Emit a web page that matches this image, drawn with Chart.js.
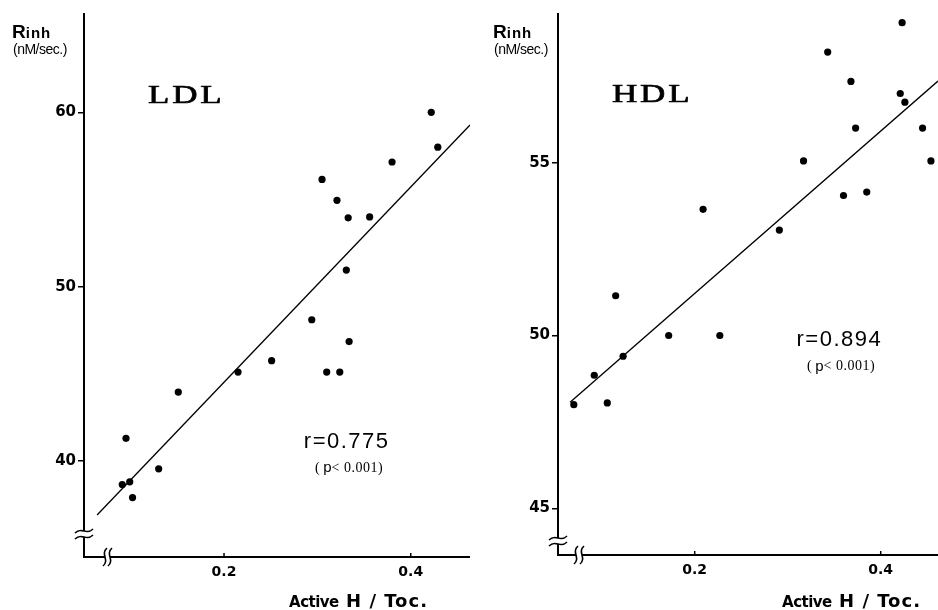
<!DOCTYPE html>
<html>
<head>
<meta charset="utf-8">
<script src="https://cdn.jsdelivr.net/npm/chart.js@4.4.1/dist/chart.umd.min.js"></script>
<style>
  body { margin: 0; background: #fff; }
  .panel { position: absolute; top: 0; height: 610px; }
  #left { left: 0; width: 470px; }
  #right { left: 470px; width: 468px; }
</style>
</head>
<body>
<div class="panel" id="left"><canvas id="ldlChart"></canvas></div>
<div class="panel" id="right"><canvas id="hdlChart"></canvas></div>
<script>
const xTickValues = [0.2, 0.4];

// LDL panel
const ldlX = [0.422, 0.429, 0.380, 0.305, 0.321, 0.333, 0.356, 0.331, 0.294, 0.334,
              0.251, 0.215, 0.310, 0.324, 0.151, 0.095, 0.130, 0.091, 0.099, 0.102];
const ldlY = [60.0, 58.0, 57.15, 56.15, 54.95, 53.95, 54.0, 50.95, 48.1, 46.85,
              45.75, 45.1, 45.1, 45.1, 43.95, 41.3, 39.55, 38.65, 38.8, 37.9];
const ldlFitX = [0.064, 0.4635];
const ldlFitY = [36.9, 59.27];
const ldlYTicks = [40, 50, 60];

// HDL panel
const hdlX = [0.423, 0.343, 0.368, 0.421, 0.426, 0.373, 0.445, 0.317, 0.454, 0.360,
              0.385, 0.209, 0.291, 0.115, 0.172, 0.227, 0.123, 0.092, 0.070, 0.106];
const hdlY = [59.05, 58.2, 57.35, 57.0, 56.75, 56.0, 56.0, 55.05, 55.05, 54.05,
              54.15, 53.65, 53.05, 51.15, 50.0, 50.0, 49.4, 48.85, 48.0, 48.05];
const hdlFitX = [0.066, 0.4616];
const hdlFitY = [48.07, 57.36];
const hdlYTicks = [45, 50, 55];

function toPoints(xs, ys) {
    return xs.map((x, i) => ({ x: x, y: ys[i] }));
}

function drawRun(ctx, parts, x, y, align) {
    let total = 0;
    parts.forEach(p => {
        ctx.font = p.font;
        ctx.letterSpacing = (p.spacing || 0) + 'px';
        p.w = ctx.measureText(p.text).width;
        total += p.w;
    });
    let cx = align === 'right' ? x - total : x;
    parts.forEach(p => {
        ctx.font = p.font;
        ctx.letterSpacing = (p.spacing || 0) + 'px';
        ctx.fillText(p.text, cx, y);
        cx += p.w;
    });
    ctx.letterSpacing = '0px';
}

function tilde(ctx, x0, x1, y) {
    ctx.beginPath();
    ctx.moveTo(x0, y + 2);
    ctx.bezierCurveTo(x0 + 7, y - 5, x1 - 7, y + 5, x1, y - 2);
    ctx.stroke();
}

function vwave(ctx, x, y0, y1) {
    ctx.beginPath();
    ctx.moveTo(x + 2, y0);
    ctx.bezierCurveTo(x - 5, y0 + 6, x + 5, y1 - 6, x - 2, y1);
    ctx.stroke();
}

const figureDecor = {
    id: 'figureDecor',
    afterDraw(chart, args, o) {
        const ctx = chart.ctx;
        const area = chart.chartArea;
        const sx = chart.scales.x, sy = chart.scales.y;
        ctx.save();
        ctx.fillStyle = '#000';
        ctx.strokeStyle = '#000';

        // short inward ticks on the x axis
        ctx.lineWidth = 1.5;
        xTickValues.forEach(v => {
            const px = sx.getPixelForValue(v);
            ctx.beginPath();
            ctx.moveTo(px, area.bottom);
            ctx.lineTo(px, area.bottom - 4);
            ctx.stroke();
        });

        // axis breaks
        const yb0 = area.bottom + o.yBreak[0], yb1 = area.bottom + o.yBreak[1];
        ctx.fillStyle = '#fff';
        ctx.fillRect(area.left - 3, yb0, 6, yb1 - yb0);
        const xb0 = area.left + o.xBreak[0], xb1 = area.left + o.xBreak[1];
        ctx.fillRect(xb0, area.bottom - 3, xb1 - xb0, 6);
        ctx.fillStyle = '#000';
        ctx.lineWidth = 1.6;
        tilde(ctx, area.left - 9, area.left + 9, yb0);
        tilde(ctx, area.left - 9, area.left + 9, yb1);
        vwave(ctx, xb0, area.bottom - 9, area.bottom + 9);
        vwave(ctx, xb1, area.bottom - 9, area.bottom + 9);

        // y axis title
        const tx = area.left + o.yTitleDx;
        ctx.textBaseline = 'alphabetic';
        ctx.textAlign = 'left';
        drawRun(ctx, [
            { text: 'R', font: 'bold 19px "Liberation Sans"' },
            { text: 'inh', font: 'bold 15px "Liberation Sans"', spacing: 1 }
        ], tx, 38, 'left');
        drawRun(ctx, [{ text: '(nM/sec.)', font: '14px "Liberation Sans"', spacing: -0.5 }], tx + 1, 54, 'left');

        // panel name, wide serif
        ctx.textBaseline = 'middle';
        ctx.save();
        ctx.translate(sx.getPixelForValue(o.name.x), sy.getPixelForValue(o.name.y));
        ctx.scale(1.4, 1);
        ctx.font = '25px "Liberation Serif"';
        ctx.letterSpacing = '2px';
        ctx.lineWidth = 0.6;
        ctx.fillText(o.name.text, 0, 0);
        ctx.strokeText(o.name.text, 0, 0);
        ctx.restore();

        // correlation
        drawRun(ctx, [{ text: o.r.text, font: '22px "Liberation Sans"', spacing: 1.5 }],
            sx.getPixelForValue(o.r.x), sy.getPixelForValue(o.r.y), 'left');
        drawRun(ctx, [
            { text: '( ', font: '14px "Liberation Serif"' },
            { text: 'p', font: '15px "Liberation Sans"' },
            { text: '< 0.001)', font: '14px "Liberation Serif"', spacing: 0.5 }
        ], sx.getPixelForValue(o.p.x), sy.getPixelForValue(o.p.y), 'left');

        // x axis title
        ctx.textBaseline = 'alphabetic';
        drawRun(ctx, [
            { text: 'Active', font: 'bold 15px "DejaVu Sans"', spacing: -0.5 },
            { text: ' H / Toc.', font: 'bold 18px "DejaVu Sans"', spacing: 1 }
        ], sx.getPixelForValue(o.xTitle.x), sy.getPixelForValue(o.xTitle.y), 'right');

        ctx.restore();
    }
};

function createPanel(canvasId, pts, fitX, fitY, yTicks, axes, decor) {
    const ctx = document.getElementById(canvasId).getContext('2d');
    return new Chart(ctx, {
        type: 'scatter',
        data: {
            datasets: [
                {
                    data: toPoints(pts[0], pts[1]),
                    backgroundColor: '#000',
                    borderWidth: 0,
                    pointRadius: 3.6
                },
                {
                    type: 'line',
                    data: toPoints(fitX, fitY),
                    borderColor: '#000',
                    borderWidth: 1.3,
                    pointRadius: 0,
                    fill: false
                }
            ]
        },
        options: {
            responsive: true,
            maintainAspectRatio: false,
            animation: false,
            layout: { autoPadding: false, padding: { top: 14, right: 0, left: 0, bottom: 0 } },
            scales: {
                x: {
                    type: 'linear',
                    min: axes.xMin,
                    max: axes.xMax,
                    afterBuildTicks: s => { s.ticks = xTickValues.map(v => ({ value: v })); },
                    afterFit: s => { s.height = axes.xHeight; },
                    grid: { display: true, drawOnChartArea: false, drawTicks: false },
                    border: { display: true, color: '#000', width: 2 },
                    ticks: {
                        color: '#000',
                        padding: 7,
                        maxRotation: 0,
                        font: { family: 'DejaVu Sans', weight: 'bold', size: 14 },
                        callback: v => v.toFixed(1)
                    }
                },
                y: {
                    type: 'linear',
                    min: axes.yMin,
                    max: axes.yMax,
                    afterBuildTicks: s => { s.ticks = yTicks.map(v => ({ value: v })); },
                    afterFit: s => { s.width = axes.yWidth; },
                    grid: { display: true, drawOnChartArea: false, drawTicks: true, tickLength: 6, color: '#000', lineWidth: 1.5 },
                    border: { display: true, color: '#000', width: 2 },
                    ticks: {
                        color: '#000',
                        padding: 2,
                        font: { family: 'DejaVu Sans', weight: 'bold', size: 15 }
                    }
                }
            },
            plugins: {
                legend: { display: false },
                tooltip: { enabled: false },
                figureDecor: decor
            }
        },
        plugins: [figureDecor]
    });
}

document.addEventListener('DOMContentLoaded', function() {
    createPanel('ldlChart', [ldlX, ldlY], ldlFitX, ldlFitY, ldlYTicks,
        { xMin: 0.05, xMax: 0.4635, yMin: 34.49, yMax: 65.64, xHeight: 53, yWidth: 84 },
        {
            yBreak: [-26, -20], xBreak: [21, 26], yTitleDx: -72,
            name: { text: 'LDL', x: 0.1186, y: 60.93 },
            r: { text: 'r=0.775', x: 0.2855, y: 41.09 },
            p: { x: 0.2975, y: 39.6 },
            xTitle: { x: 0.4185, y: 31.63 }
        });

    createPanel('hdlChart', [hdlX, hdlY], hdlFitX, hdlFitY, hdlYTicks,
        { xMin: 0.053, xMax: 0.4616, yMin: 43.65, yMax: 59.30, xHeight: 55, yWidth: 88 },
        {
            yBreak: [-17, -11], xBreak: [18, 24], yTitleDx: -65,
            name: { text: 'HDL', x: 0.1111, y: 56.93 },
            r: { text: 'r=0.894', x: 0.3095, y: 49.86 },
            p: { x: 0.3208, y: 49.1 },
            xTitle: { x: 0.4433, y: 42.14 }
        });
});
</script>
</body>
</html>
